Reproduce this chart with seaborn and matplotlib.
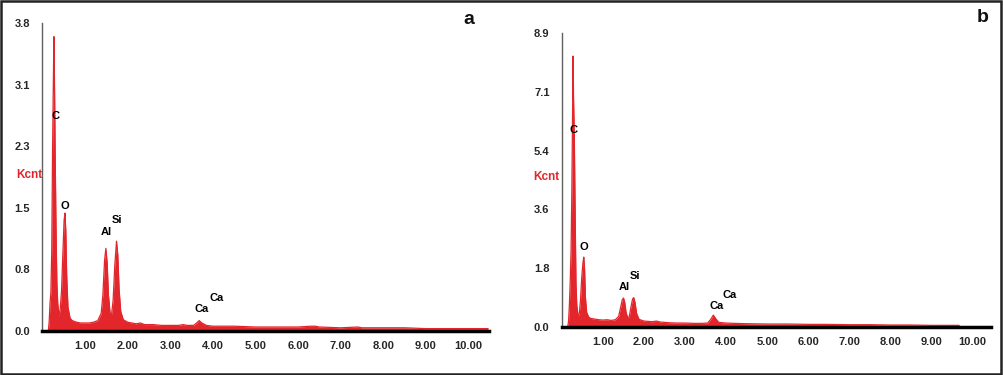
import numpy as np
import pandas as pd
import seaborn as sns
import matplotlib.pyplot as plt
from matplotlib.patches import Rectangle

# EDS spectra (energy in keV, intensity in Kcnt)
energy_a = [0.14, 0.16, 0.18, 0.20, 0.22, 0.24, 0.26, 0.27, 0.28, 0.29, 0.30, 0.32, 0.34, 0.36,
            0.39, 0.42, 0.45, 0.48, 0.51, 0.53, 0.55, 0.57, 0.60, 0.65, 0.70, 0.80, 0.90, 1.00,
            1.10, 1.20, 1.30, 1.38, 1.42, 1.46, 1.49, 1.52, 1.55, 1.59, 1.62, 1.66, 1.70, 1.74,
            1.77, 1.80, 1.84, 1.90, 2.00, 2.10, 2.20, 2.30, 2.40, 2.60, 2.80, 3.00, 3.20, 3.30,
            3.40, 3.55, 3.62, 3.68, 3.74, 3.85, 4.00, 4.50, 5.00, 5.50, 6.00, 6.30, 6.40, 6.50,
            7.00, 7.40, 7.50, 8.00, 8.50, 9.00, 9.50, 10.00, 10.46]
counts_a = [0.00, 0.12, 0.35, 0.48, 1.00, 2.30, 3.20, 3.67, 3.30, 2.80, 2.20, 1.30, 0.60, 0.35,
            0.18, 0.28, 0.50, 0.95, 1.38, 1.47, 1.25, 0.70, 0.30, 0.16, 0.13, 0.11, 0.10, 0.10,
            0.10, 0.11, 0.13, 0.22, 0.45, 0.88, 1.03, 0.85, 0.45, 0.22, 0.19, 0.38, 0.82, 1.12,
            0.95, 0.52, 0.24, 0.14, 0.11, 0.10, 0.09, 0.10, 0.08, 0.08, 0.07, 0.07, 0.07, 0.08,
            0.07, 0.07, 0.10, 0.13, 0.10, 0.07, 0.06, 0.06, 0.05, 0.05, 0.05, 0.06, 0.06, 0.05,
            0.04, 0.05, 0.04, 0.04, 0.04, 0.03, 0.03, 0.03, 0.03]

energy_b = [0.14, 0.16, 0.18, 0.20, 0.22, 0.24, 0.26, 0.27, 0.28, 0.30, 0.32, 0.34, 0.36, 0.39,
            0.42, 0.45, 0.48, 0.51, 0.53, 0.55, 0.57, 0.60, 0.65, 0.70, 0.80, 0.90, 1.00, 1.10,
            1.20, 1.30, 1.38, 1.43, 1.47, 1.50, 1.53, 1.56, 1.60, 1.64, 1.68, 1.72, 1.75, 1.78,
            1.82, 1.88, 2.00, 2.10, 2.20, 2.30, 2.40, 2.60, 2.80, 3.00, 3.20, 3.40, 3.55, 3.62,
            3.69, 3.75, 3.82, 4.00, 4.20, 4.50, 5.00, 5.50, 6.00, 6.40, 7.00, 7.50, 8.00, 8.50,
            9.00, 9.50, 9.68, 9.70]
counts_b = [0.00, 0.20, 0.70, 1.40, 2.30, 4.20, 6.90, 8.22, 7.00, 5.70, 3.40, 1.30, 0.65, 0.34,
            0.40, 0.80, 1.50, 1.95, 2.12, 1.75, 0.90, 0.45, 0.30, 0.26, 0.24, 0.22, 0.21, 0.22,
            0.20, 0.22, 0.32, 0.60, 0.83, 0.88, 0.74, 0.45, 0.28, 0.32, 0.60, 0.85, 0.89, 0.74,
            0.40, 0.23, 0.18, 0.17, 0.16, 0.18, 0.15, 0.13, 0.12, 0.12, 0.11, 0.11, 0.12, 0.22,
            0.36, 0.25, 0.14, 0.12, 0.11, 0.10, 0.09, 0.09, 0.08, 0.08, 0.07, 0.07, 0.06, 0.06,
            0.05, 0.05, 0.05, 0.00]

# peak labels: (text, energy, height)
labels_a = [('C', 0.30, 2.68), ('O', 0.53, 1.56), ('Al', 1.51, 1.23), ('Si', 1.76, 1.38),
            ('Ca', 3.74, 0.27), ('Ca', 4.08, 0.415)]
labels_b = [('C', 0.29, 5.98), ('O', 0.54, 2.44), ('Al', 1.52, 1.22), ('Si', 1.77, 1.55),
            ('Ca', 3.76, 0.64), ('Ca', 4.08, 0.96)]

xticks = [1, 2, 3, 4, 5, 6, 7, 8, 9, 10]

sns.set_style('white')
plt.rcParams['font.family'] = ['Liberation Sans', 'DejaVu Sans']

RED = '#e3262b'

fig = plt.figure(figsize=(10.04, 3.75), dpi=100)
ax_a = fig.add_axes([0.0422, 0.1173, 0.4448, 0.8214])
ax_b = fig.add_axes([0.5598, 0.128, 0.4272, 0.784])

panels = [
    (ax_a, energy_a, counts_a, labels_a, 3.84, 10.48, (-0.059, 1.94)),
    (ax_b, energy_b, counts_b, labels_b, 8.92, 10.46, (-0.068, 4.55)),
]

for ax, en, ct, labs, ymax, xmax, kpos in panels:
    df = pd.DataFrame({'energy': en, 'counts': ct})
    ax.fill_between(df['energy'], 0, df['counts'], color=RED, linewidth=0)
    sns.lineplot(data=df, x='energy', y='counts', ax=ax, color=RED, linewidth=0.9)

    ax.set_xlim(0, xmax)
    ax.set_ylim(0, ymax)
    ax.set_xticks(xticks)
    ax.set_xticklabels([f'{t:.2f}' for t in xticks])
    yt = np.linspace(0, ymax, 6)
    ax.set_yticks(yt)
    ax.set_yticklabels([f'{t:.1f}' for t in yt])
    ax.set_xlabel('')
    ax.set_ylabel('')

    for s in ['top', 'right']:
        ax.spines[s].set_visible(False)
    ax.spines['left'].set_color('#606060')
    ax.spines['left'].set_linewidth(1.0)
    ax.spines['bottom'].set_color('black')
    ax.spines['bottom'].set_linewidth(2.5)
    ax.spines['bottom'].set_zorder(5)

    ax.tick_params(axis='both', which='major', direction='out', length=4, width=1,
                   color='#606060', labelsize=8, pad=3)
    ax.tick_params(axis='y', pad=5)
    for lbl in ax.get_xticklabels() + ax.get_yticklabels():
        lbl.set_fontweight('bold')

    for txt, x, y in labs:
        ax.text(x, y, txt, ha='center', va='center', fontsize=8, fontweight='bold', color='black')

    ax.text(kpos[0], kpos[1], 'Kcnt', transform=ax.get_yaxis_transform(), ha='left', va='center',
            fontsize=8.5, fontweight='bold', color=RED)

fig.text(469 / 1004, 1 - 19 / 375, 'a', ha='center', va='center', fontsize=14,
         fontweight='bold', color='#111111')
fig.text(983 / 1004, 1 - 18 / 375, 'b', ha='center', va='center', fontsize=14,
         fontweight='bold', color='#111111')

# outer frame
fig.patches.append(Rectangle((0.001, 0.004), 0.996, 0.994, transform=fig.transFigure,
                             fill=False, edgecolor='#222222', linewidth=1.8))

fig.savefig('out.png', dpi=100)
